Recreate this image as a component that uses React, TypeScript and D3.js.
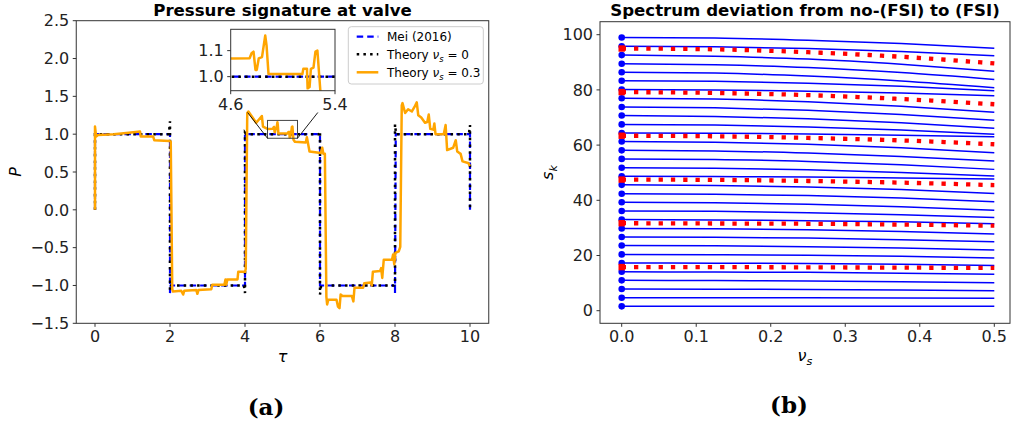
import React from "react";
import * as d3 from "d3";

const W = 1011;
const H = 430;

// ---------- Panel (a): pressure signature at the valve ----------
const meiTau = [0, 0, 2, 2, 2.02, 4, 4, 6, 6, 8, 8, 8.02, 10, 10];
const meiP = [0, 1, 1, -1.1, -1, -1, 1, 1, -1, -1, -1.1, 1, 1, 0];

const theory0Tau = [0, 0, 1.97, 2, 2, 2.03, 3.97, 4, 4, 4.03, 5.97, 6, 6, 6.03, 7.97, 8, 8, 8.03, 9.97, 10, 10];
const theory0P = [0, 1, 1, 1.17, -1.06, -1, -1, -1.1, 1.02, 1, 1, 1.04, -1.12, -1, -1, -0.98, 1.13, 1, 1, 1.12, 0];

const theory03Tau = [
  0, 0, 0.03, 0.08, 0.5, 0.9, 1.2, 1.22, 1.55, 1.58, 1.98, 2.02, 2.06,
  2.08, 2.3, 2.35, 2.38, 2.7, 2.73, 2.76, 3.1, 3.13, 3.45, 3.48, 3.5, 3.53, 3.8, 3.82, 4.0, 4.02, 4.06,
  4.09, 4.3, 4.45, 4.48, 4.6, 4.745, 4.76, 4.775, 4.79, 4.8, 4.815, 4.84, 4.865, 4.875, 4.89,
  5.15, 5.157, 5.185, 5.19, 5.205, 5.215, 5.235, 5.25, 5.265, 5.29,
  5.33, 5.62, 5.65, 5.68, 5.72, 6.02, 6.06, 6.09, 6.13, 6.17,
  6.19, 6.22, 6.44, 6.48, 6.52, 6.55, 6.6, 6.85, 6.89, 6.92, 7.15, 7.18, 7.35, 7.38, 7.41, 7.6, 7.63,
  7.66, 7.7, 7.92, 7.95, 7.98, 8.01, 8.1, 8.14, 8.18,
  8.2, 8.27, 8.35, 8.45, 8.52, 8.58, 8.62, 8.7, 8.8, 8.86, 8.9, 8.94, 9.02, 9.05, 9.08, 9.3, 9.35,
  9.39, 9.55, 9.62, 9.66, 9.75, 9.8, 9.95, 10.0,
];
const theory03P = [
  0, 1.1, 0.97, 0.99, 1.0, 1.02, 1.035, 0.97, 0.97, 0.92, 0.91, 0.9, -1.05,
  -1.08, -1.07, -1.12, -1.07, -1.06, -1.11, -1.06, -1.05, -0.99, -0.99, -0.92, -0.99, -0.92, -0.92, -0.82, -0.82, -0.78, 1.28,
  1.3, 1.15, 1.24, 1.1, 1.07, 1.071, 1.09, 1.096, 1.026, 1.026, 1.07, 1.075, 1.158, 1.12, 1.01,
  1.01, 1.03, 1.03, 0.955, 0.96, 1.03, 1.035, 1.096, 1.1, 0.93,
  0.9, 0.89, 0.96, 0.88, 0.77, 0.75, 0.82, 0.74, 0.74, -1.15,
  -1.25, -1.19, -1.19, -1.28, -1.3, -1.12, -1.14, -1.14, -1.21, -1.03, -1.03, -0.97, -0.96, -1.0, -0.82, -0.81, -0.77,
  -0.9, -0.66, -0.66, -0.59, -0.72, -0.57, -0.55, -0.49, 1.38,
  1.41, 1.28, 1.33, 1.3, 1.36, 1.42, 1.25, 1.22, 1.15, 1.16, 1.26, 1.07, 1.06, 1.14, 1.0, 1.0, 1.12,
  0.79, 0.82, 0.92, 0.77, 0.74, 0.64, 0.62, 0.58,
];

const tauTicks = [0, 2, 4, 6, 8, 10];
const pTicks = [-1.5, -1, -0.5, 0, 0.5, 1, 1.5, 2, 2.5];
const insetTauTicks = [4.6, 5.4];
const insetPTicks = [1.0, 1.1];

// ---------- Panel (b): spectrum versus Poisson ratio ----------
const nuGrid = [0, 0.125, 0.25, 0.375, 0.5];
const fluidModes = [
  [99.0, 98.8, 98.0, 96.8, 95.1],
  [95.8, 95.6, 95.0, 93.9, 92.4],
  [92.6, 92.2, 91.2, 89.3, 86.8],
  [89.5, 89.1, 88.1, 86.3, 83.8],
  [86.4, 86.1, 85.0, 83.25, 80.8],
  [83.3, 83.1, 82.4, 81.3, 79.7],
  [80.1, 80.0, 79.55, 78.9, 77.9],
  [77.0, 76.7, 75.7, 74.1, 71.9],
  [73.8, 73.5, 72.6, 71.1, 69.0],
  [70.7, 70.4, 69.55, 68.1, 66.1],
  [67.5, 67.3, 66.6, 65.5, 63.9],
  [64.4, 64.3, 64.05, 63.6, 63.0],
  [61.3, 61.0, 60.3, 59.0, 57.2],
  [58.1, 57.9, 57.1, 55.9, 54.2],
  [55.0, 54.8, 54.05, 52.9, 51.2],
  [51.8, 51.6, 51.05, 50.1, 48.8],
  [48.7, 48.6, 48.45, 48.1, 47.7],
  [45.6, 45.4, 44.8, 43.9, 42.5],
  [42.4, 42.2, 41.7, 40.8, 39.5],
  [39.3, 39.1, 38.6, 37.7, 36.4],
  [36.1, 36.0, 35.5, 34.8, 33.8],
  [33.0, 32.9, 32.6, 32.2, 31.5],
  [29.8, 29.7, 29.3, 28.7, 27.8],
  [26.7, 26.6, 26.3, 25.7, 25.0],
  [23.6, 23.5, 23.2, 22.7, 22.0],
  [20.4, 20.3, 20.1, 19.7, 19.1],
  [17.3, 17.2, 17.1, 16.8, 16.4],
  [14.1, 14.0, 13.9, 13.6, 13.2],
  [11.0, 10.9, 10.8, 10.5, 10.1],
  [7.85, 7.8, 7.7, 7.5, 7.2],
  [4.71, 4.7, 4.66, 4.6, 4.5],
  [1.57, 1.57, 1.57, 1.57, 1.57],
];
const structModes = [
  [15.8, 15.8, 15.7, 15.6, 15.5],
  [31.7, 31.6, 31.5, 31.2, 30.8],
  [47.5, 47.4, 47.0, 46.4, 45.5],
  [63.4, 63.2, 62.6, 61.7, 60.3],
  [79.2, 78.9, 78.1, 76.7, 74.8],
  [95.0, 94.7, 93.65, 92.0, 89.6],
];
const nuTicks = [0, 0.1, 0.2, 0.3, 0.4, 0.5];
const sTicks = [0, 20, 40, 60, 80, 100];

// ---------- shared styling ----------
const FONT = "DejaVu Sans, sans-serif";
const TICK_FS = 16;
const SPINE = "#333";
const BLUE = "#0000ff";
const ORANGE = "#ffa500";

const f1 = d3.format(".1f");

// panel (a) geometry
const A = { x0: 76.25, x1: 488.75, y0: 20.7, y1: 323.3 };
const xA = d3.scaleLinear().domain([0, 10]).range([95, 470]);
const yA = d3.scaleLinear().domain([-1.5, 2.5]).range([A.y1, A.y0]);

// inset geometry
const I = { x0: 230.7, x1: 335, y0: 29.3, y1: 90.7 };
const xI = d3.scaleLinear().domain([4.6, 5.4]).range([I.x0, I.x1]);
const yI = d3.scaleLinear().domain([0.946, 1.182]).range([I.y1, I.y0]);

// panel (b) geometry
const B = { x0: 600, x1: 1010, y0: 21.7, y1: 323.3 };
const xB = d3.scaleLinear().domain([0, 0.5]).range([621.7, 994.3]);
const yB = d3.scaleLinear().domain([0, 100]).range([310.7, 34.7]);

type Pt = [number, number];
const zip = (a: number[], b: number[]): Pt[] => a.map((v, i) => [v, b[i]] as Pt);

const meiPts = zip(meiTau, meiP);
const th0Pts = zip(theory0Tau, theory0P);
const th3Pts = zip(theory03Tau, theory03P);

function Lines({ x, y }: { x: d3.ScaleLinear<number, number>; y: d3.ScaleLinear<number, number> }) {
  const line = d3
    .line<Pt>()
    .x((d) => x(d[0]))
    .y((d) => y(d[1]));
  return (
    <g>
      <path d={line(meiPts) ?? ""} fill="none" stroke={BLUE} strokeWidth={2.2} strokeDasharray="6.5 4" />
      <path d={line(th0Pts) ?? ""} fill="none" stroke="#000" strokeWidth={2.5} strokeDasharray="2.5 4.2" />
      <path d={line(th3Pts) ?? ""} fill="none" stroke={ORANGE} strokeWidth={2.5} strokeLinejoin="round" />
    </g>
  );
}

function MathNu({ sub, size }: { sub: string; size: number }) {
  return (
    <>
      <tspan fontStyle="italic">ν</tspan>
      <tspan fontStyle="italic" fontSize={size * 0.7} dy={size * 0.25}>
        {sub}
      </tspan>
    </>
  );
}

function PanelA() {
  const rx0 = xA(4.6);
  const rx1 = xA(5.4);
  const ry0 = yA(1.182);
  const ry1 = yA(0.946);
  return (
    <g fontFamily={FONT}>
      <defs>
        <clipPath id="clipA">
          <rect x={A.x0} y={A.y0} width={A.x1 - A.x0} height={A.y1 - A.y0} />
        </clipPath>
        <clipPath id="clipI">
          <rect x={I.x0} y={I.y0} width={I.x1 - I.x0} height={I.y1 - I.y0} />
        </clipPath>
        <clipPath id="clipConn">
          <rect x={A.x0} y={112.5} width={A.x1 - A.x0} height={A.y1 - 112.5} />
        </clipPath>
      </defs>

      <text x={(A.x0 + A.x1) / 2} y={16} textAnchor="middle" fontWeight="bold" fontSize={16.6}>
        Pressure signature at valve
      </text>

      <g clipPath="url(#clipA)">
        <Lines x={xA} y={yA} />
      </g>

      {/* zoomed region marker and connectors */}
      <rect x={rx0} y={ry0} width={rx1 - rx0} height={ry1 - ry0} fill="none" stroke="#444" strokeWidth={1} />
      <g clipPath="url(#clipConn)" stroke="#000" strokeWidth={0.9}>
        <line x1={I.x0} y1={I.y1} x2={rx0} y2={ry1} />
        <line x1={I.x1} y1={I.y1} x2={rx1} y2={ry1} />
      </g>

      <rect x={A.x0} y={A.y0} width={A.x1 - A.x0} height={A.y1 - A.y0} fill="none" stroke={SPINE} strokeWidth={1} />

      {/* x axis */}
      {tauTicks.map((t) => (
        <g key={`tx${t}`}>
          <line x1={xA(t)} x2={xA(t)} y1={A.y1} y2={A.y1 + 3.5} stroke={SPINE} />
          <text x={xA(t)} y={A.y1 + 18.8} textAnchor="middle" fontSize={TICK_FS} fill="#222">
            {t}
          </text>
        </g>
      ))}
      {/* y axis */}
      {pTicks.map((p) => (
        <g key={`ty${p}`}>
          <line x1={A.x0 - 3.5} x2={A.x0} y1={yA(p)} y2={yA(p)} stroke={SPINE} />
          <text x={A.x0 - 7} y={yA(p)} dy="0.36em" textAnchor="end" fontSize={TICK_FS} fill="#222">
            {f1(p)}
          </text>
        </g>
      ))}
      <text x={(A.x0 + A.x1) / 2} y={361.5} textAnchor="middle" fontSize={16} fontStyle="italic">
        τ
      </text>
      <text transform={`translate(20.5,172) rotate(-90)`} textAnchor="middle" fontSize={16} fontStyle="italic">
        P
      </text>

      {/* inset */}
      <rect x={I.x0} y={I.y0} width={I.x1 - I.x0} height={I.y1 - I.y0} fill="#fff" />
      <g clipPath="url(#clipI)">
        <Lines x={xI} y={yI} />
      </g>
      <rect x={I.x0} y={I.y0} width={I.x1 - I.x0} height={I.y1 - I.y0} fill="none" stroke={SPINE} strokeWidth={1} />
      {insetTauTicks.map((t) => (
        <g key={`ix${t}`}>
          <line x1={xI(t)} x2={xI(t)} y1={I.y1} y2={I.y1 + 3.5} stroke={SPINE} />
          <text x={xI(t)} y={I.y1 + 18.8} textAnchor="middle" fontSize={TICK_FS} fill="#222">
            {f1(t)}
          </text>
        </g>
      ))}
      {insetPTicks.map((p) => (
        <g key={`iy${p}`}>
          <line x1={I.x0 - 3.5} x2={I.x0} y1={yI(p)} y2={yI(p)} stroke={SPINE} />
          <text x={I.x0 - 7} y={yI(p)} dy="0.36em" textAnchor="end" fontSize={TICK_FS} fill="#222">
            {f1(p)}
          </text>
        </g>
      ))}

      {/* legend */}
      <g>
        <rect x={348.3} y={26.7} width={135} height={57.3} rx={3} fill="#fff" fillOpacity={0.85} stroke="#ccc" />
        <line x1={356.7} x2={378.3} y1={36.7} y2={36.7} stroke={BLUE} strokeWidth={2.2} strokeDasharray="6.5 4" />
        <text x={387} y={36.7} dy="0.36em" fontSize={12}>
          Mei (2016)
        </text>
        <line x1={356.7} x2={378.3} y1={54.3} y2={54.3} stroke="#000" strokeWidth={2.5} strokeDasharray="2.5 4.2" />
        <text x={387} y={54.3} dy="0.36em" fontSize={12}>
          Theory <MathNu sub="s" size={12} />
          <tspan dy={-3}> = 0</tspan>
        </text>
        <line x1={356.7} x2={378.3} y1={72.3} y2={72.3} stroke={ORANGE} strokeWidth={2.5} />
        <text x={387} y={72.3} dy="0.36em" fontSize={12}>
          Theory <MathNu sub="s" size={12} />
          <tspan dy={-3}> = 0.3</tspan>
        </text>
      </g>
    </g>
  );
}

function PanelB() {
  const line = d3
    .line<number>()
    .x((_, i) => xB(nuGrid[i]))
    .y((d) => yB(d))
    .curve(d3.curveMonotoneX);
  return (
    <g fontFamily={FONT}>
      <text x={(B.x0 + B.x1) / 2} y={16} textAnchor="middle" fontWeight="bold" fontSize={16.6}>
        Spectrum deviation from no-(FSI) to (FSI)
      </text>

      {fluidModes.map((m, i) => (
        <path key={`f${i}`} d={line(m) ?? ""} fill="none" stroke={BLUE} strokeWidth={1.5} />
      ))}
      {fluidModes.map((m, i) => (
        <circle key={`d${i}`} cx={xB(nuGrid[0])} cy={yB(m[0])} r={3.3} fill={BLUE} />
      ))}
      {structModes.map((m, i) => (
        <g key={`s${i}`}>
          <path d={line(m) ?? ""} fill="none" stroke="#ff0000" strokeWidth={4.3} strokeDasharray="4.3 8" />
          <rect x={xB(nuGrid[0]) - 3.2} y={yB(m[0]) - 3.2} width={6.4} height={6.4} fill="#ff0000" />
        </g>
      ))}

      <rect x={B.x0} y={B.y0} width={B.x1 - B.x0} height={B.y1 - B.y0} fill="none" stroke={SPINE} strokeWidth={1} />

      {nuTicks.map((t) => (
        <g key={`bx${t}`}>
          <line x1={xB(t)} x2={xB(t)} y1={B.y1} y2={B.y1 + 3.5} stroke={SPINE} />
          <text x={xB(t)} y={B.y1 + 18.8} textAnchor="middle" fontSize={TICK_FS} fill="#222">
            {f1(t)}
          </text>
        </g>
      ))}
      {sTicks.map((s) => (
        <g key={`by${s}`}>
          <line x1={B.x0 - 3.5} x2={B.x0} y1={yB(s)} y2={yB(s)} stroke={SPINE} />
          <text x={B.x0 - 7} y={yB(s)} dy="0.36em" textAnchor="end" fontSize={TICK_FS} fill="#222">
            {s}
          </text>
        </g>
      ))}
      <text x={(B.x0 + B.x1) / 2} y={361} textAnchor="middle" fontSize={16}>
        <MathNu sub="s" size={16} />
      </text>
      <text transform={`translate(553,172.5) rotate(-90)`} textAnchor="middle" fontSize={16}>
        <tspan fontStyle="italic">s</tspan>
        <tspan fontStyle="italic" fontSize={11.2} dy={4}>
          k
        </tspan>
      </text>
    </g>
  );
}

export default function App() {
  return (
    <svg
      width={W}
      height={H}
      viewBox={`0 0 ${W} ${H}`}
      style={{ position: "absolute", left: 0, top: 0, display: "block", background: "#fff" }}
    >
      <rect width={W} height={H} fill="#fff" />
      <PanelA />
      <PanelB />
      <text x={266} y={415} textAnchor="middle" fontFamily="DejaVu Serif, serif" fontWeight="bold" fontSize={23}>
        (a)
      </text>
      <text x={789} y={413} textAnchor="middle" fontFamily="DejaVu Serif, serif" fontWeight="bold" fontSize={23}>
        (b)
      </text>
    </svg>
  );
}
